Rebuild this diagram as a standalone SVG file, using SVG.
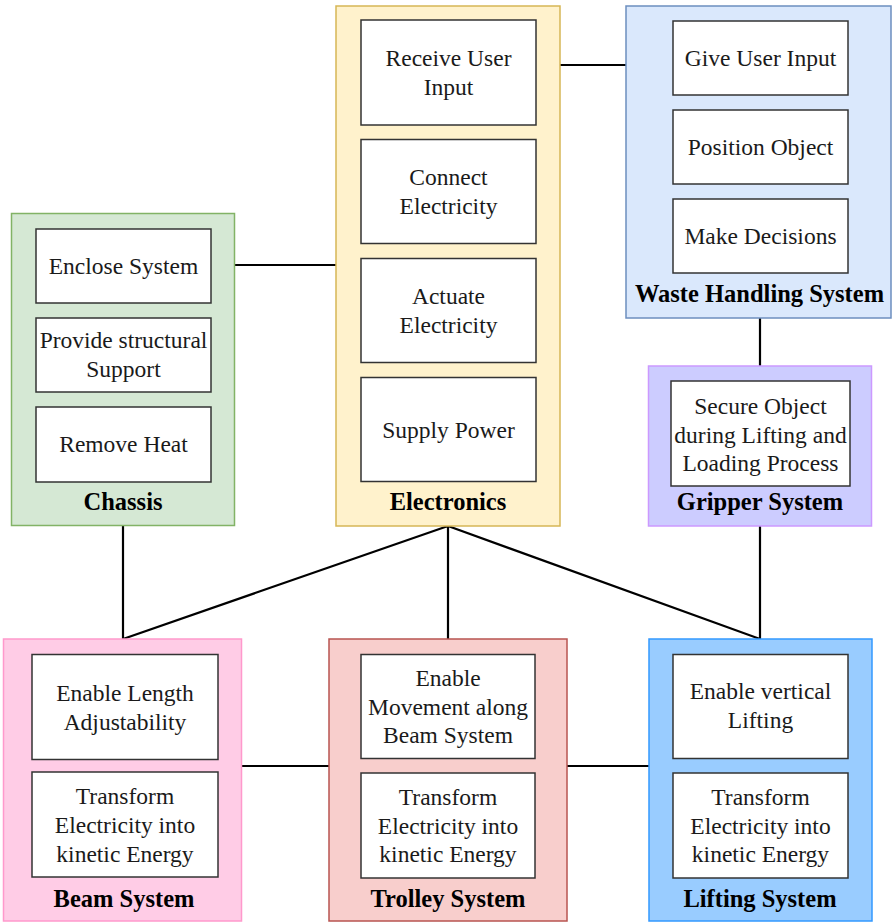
<svg xmlns="http://www.w3.org/2000/svg" width="893" height="923" viewBox="0 0 893 923">
  <style>
    .fn { fill: #ffffff; stroke: #333333; stroke-width: 1.5; }
    .t { font-family: "Liberation Serif", "Times New Roman", serif; font-size: 23.5px; fill: #1a1a1a; text-anchor: middle; }
    .lbl { font-family: "Liberation Serif", "Times New Roman", serif; font-size: 24.5px; font-weight: bold; fill: #000000; text-anchor: middle; }
    .link { stroke: #000000; stroke-width: 2.2; fill: none; stroke-linejoin: miter; }
  </style>
  <rect width="893" height="923" fill="#ffffff"/>

  <!-- connectors -->
  <g id="connectors">
    <line class="link" x1="560" y1="65" x2="626" y2="65"/>
    <line class="link" x1="235" y1="265" x2="336" y2="265"/>
    <line class="link" x1="760" y1="318" x2="760" y2="366"/>
    <line class="link" x1="123" y1="526" x2="123" y2="639"/>
    <polyline class="link" points="123,639 448,526 448,639"/>
    <polyline class="link" points="448,526 760,639 760,526"/>
    <line class="link" x1="242" y1="766" x2="329" y2="766"/>
    <line class="link" x1="567" y1="766" x2="649" y2="766"/>
  </g>

  <!-- Chassis -->
  <g id="chassis">
    <rect x="11.5" y="213.5" width="223" height="312" fill="#d5e8d4" stroke="#82b366" stroke-width="1.5"/>
    <rect class="fn" x="36" y="229" width="175" height="74"/>
    <text class="t" x="123.5" y="274">Enclose System</text>
    <rect class="fn" x="36" y="318" width="175" height="74"/>
    <text class="t" x="123.5" y="348">Provide structural</text>
    <text class="t" x="123.5" y="377">Support</text>
    <rect class="fn" x="36" y="407" width="175" height="75"/>
    <text class="t" x="123.5" y="452">Remove Heat</text>
    <text class="lbl" x="123" y="510">Chassis</text>
  </g>

  <!-- Electronics -->
  <g id="electronics">
    <rect x="336" y="6" width="224" height="520" fill="#fff2cc" stroke="#d6b656" stroke-width="1.5"/>
    <rect class="fn" x="361" y="20" width="175" height="105"/>
    <text class="t" x="448.5" y="66">Receive User</text>
    <text class="t" x="448.5" y="95">Input</text>
    <rect class="fn" x="361" y="139.5" width="175" height="104"/>
    <text class="t" x="448.5" y="185">Connect</text>
    <text class="t" x="448.5" y="214">Electricity</text>
    <rect class="fn" x="361" y="258.5" width="175" height="104"/>
    <text class="t" x="448.5" y="304">Actuate</text>
    <text class="t" x="448.5" y="333">Electricity</text>
    <rect class="fn" x="361" y="377.5" width="175" height="104"/>
    <text class="t" x="448.5" y="438">Supply Power</text>
    <text class="lbl" x="448" y="510">Electronics</text>
  </g>

  <!-- Waste Handling System -->
  <g id="waste-handling">
    <rect x="626" y="6" width="265" height="312" fill="#dae8fc" stroke="#6c8ebf" stroke-width="1.5"/>
    <rect class="fn" x="673" y="21" width="175" height="74"/>
    <text class="t" x="760.5" y="66">Give User Input</text>
    <rect class="fn" x="673" y="110" width="175" height="74"/>
    <text class="t" x="760.5" y="155">Position Object</text>
    <rect class="fn" x="673" y="199" width="175" height="74"/>
    <text class="t" x="760.5" y="244">Make Decisions</text>
    <text class="lbl" x="759.5" y="302">Waste Handling System</text>
  </g>

  <!-- Gripper System -->
  <g id="gripper">
    <rect x="648.5" y="366" width="223" height="160" fill="#ccccff" stroke="#cc99ff" stroke-width="1.5"/>
    <rect class="fn" x="671" y="381" width="179" height="105"/>
    <text class="t" x="760.5" y="414">Secure Object</text>
    <text class="t" x="760.5" y="443">during Lifting and</text>
    <text class="t" x="760.5" y="471">Loading Process</text>
    <text class="lbl" x="760" y="510">Gripper System</text>
  </g>

  <!-- Beam System -->
  <g id="beam">
    <rect x="3.5" y="639" width="238" height="282" fill="#ffcce6" stroke="#ff99cc" stroke-width="1.5"/>
    <rect class="fn" x="32" y="654.5" width="186" height="105"/>
    <text class="t" x="125" y="701">Enable Length</text>
    <text class="t" x="125" y="730">Adjustability</text>
    <rect class="fn" x="32" y="772" width="186" height="105"/>
    <text class="t" x="125" y="804">Transform</text>
    <text class="t" x="125" y="833">Electricity into</text>
    <text class="t" x="125" y="862">kinetic Energy</text>
    <text class="lbl" x="124" y="907">Beam System</text>
  </g>

  <!-- Trolley System -->
  <g id="trolley">
    <rect x="329" y="639" width="238" height="282" fill="#f8cecc" stroke="#b85450" stroke-width="1.5"/>
    <rect class="fn" x="361" y="654.5" width="174" height="104"/>
    <text class="t" x="448" y="686">Enable</text>
    <text class="t" x="448" y="715">Movement along</text>
    <text class="t" x="448" y="743">Beam System</text>
    <rect class="fn" x="361" y="773" width="174" height="105"/>
    <text class="t" x="448" y="805">Transform</text>
    <text class="t" x="448" y="834">Electricity into</text>
    <text class="t" x="448" y="862">kinetic Energy</text>
    <text class="lbl" x="448" y="907">Trolley System</text>
  </g>

  <!-- Lifting System -->
  <g id="lifting">
    <rect x="649" y="639" width="223" height="282" fill="#99ccff" stroke="#3399ff" stroke-width="1.5"/>
    <rect class="fn" x="673" y="654.5" width="175" height="104"/>
    <text class="t" x="760.5" y="699">Enable vertical</text>
    <text class="t" x="760.5" y="728">Lifting</text>
    <rect class="fn" x="673" y="773" width="175" height="105"/>
    <text class="t" x="760.5" y="805">Transform</text>
    <text class="t" x="760.5" y="834">Electricity into</text>
    <text class="t" x="760.5" y="862">kinetic Energy</text>
    <text class="lbl" x="760" y="907">Lifting System</text>
  </g>
</svg>
